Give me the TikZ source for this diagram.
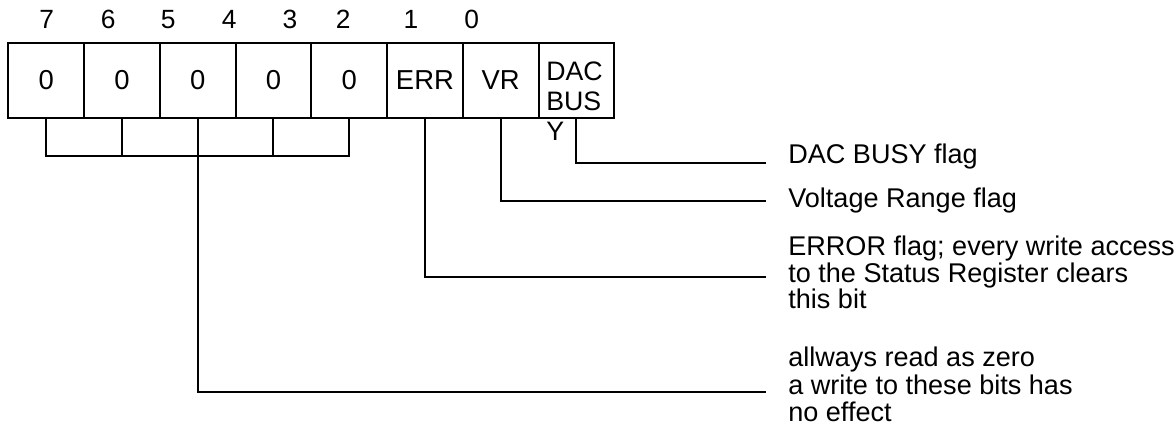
\documentclass[tikz,border=0pt]{standalone}
\usepackage{fontspec}
\setmainfont{Liberation Sans}
\usepackage{tikz}

\tikzset{
  cell/.style={draw, line width=1.1pt, minimum width=1.515cm, minimum height=1.5cm,
    inner sep=0pt, font=\fontsize{15.6}{17}\selectfont},
  bitnum/.style={inner sep=0pt, font=\fontsize{15}{16}\selectfont},
  note/.style={inner sep=0pt, align=left, font=\fontsize{15.4}{14.9}\selectfont},
  wire/.style={line width=1.1pt}
}

\begin{document}
\begin{tikzpicture}[x=0.02cm, y=-0.02cm]
        \useasboundingbox (0,0) rectangle (1176,432);
        % bit numbers
        \node[bitnum] (b7) at (46.7,19.3) {7};
        \node[bitnum] (b6) at (108.3,19.3) {6};
        \node[bitnum] (b5) at (168.3,19.3) {5};
        \node[bitnum] (b4) at (229.3,19.3) {4};
        \node[bitnum] (b3) at (290,19.3) {3};
        \node[bitnum] (b2) at (343.3,19.3) {2};
        \node[bitnum] (b1) at (411,19.3) {1};
        \node[bitnum] (b0) at (471.7,19.3) {0};
        % register cells
        \node[cell] (c7) at (46.2,80.2) {0};
        \node[cell] (c6) at (121.9,80.2) {0};
        \node[cell] (c5) at (197.7,80.2) {0};
        \node[cell] (c4) at (273.4,80.2) {0};
        \node[cell] (c3) at (349.2,80.2) {0};
        \node[cell] (cerr) at (424.9,80.2) {ERR};
        \node[cell] (cvr) at (500.7,80.2) {VR};
        \node[cell] (cdac) at (576.4,80.2) {};
        \node[note, anchor=north west, font=\fontsize{15.2}{17.1}\selectfont] (dactxt) at (546,61.5) {DAC\\BUS\\Y};
        % descriptions
        \node[note, anchor=base west] (ldac) at (788,164) {DAC BUSY flag};
        \node[note, anchor=base west] (lvr) at (788,208) {Voltage Range flag};
        \node[note, anchor=north west] (lerr) at (788,236) {ERROR flag; every write access\\to the Status Register clears\\this bit};
        \node[note, anchor=north west, font=\fontsize{15.4}{15.4}\selectfont] (lzero) at (788,347) {allways read as zero\\a write to these bits has\\no effect};
        % line ends
        \coordinate (edac) at (765.7,163.3);
        \coordinate (evr) at (765.7,201);
        \coordinate (eerr) at (765.7,276.7);
        \coordinate (ezero) at (765.7,391.7);
        \coordinate (bar) at (0,156);
        % connectors
        \draw[wire] (c7.south) -- (c7.south |- bar) -- (c3.south |- bar) -- (c3.south);
        \draw[wire] (c6.south) -- (c6.south |- bar);
        \draw[wire] (c4.south) -- (c4.south |- bar);
        \draw[wire] (c5.south) |- (ezero);
        \draw[wire] (cerr.south) |- (eerr);
        \draw[wire] (cvr.south) |- (evr);
        \draw[wire] (cdac.south) |- (edac);
    \end{tikzpicture}
\end{document}
